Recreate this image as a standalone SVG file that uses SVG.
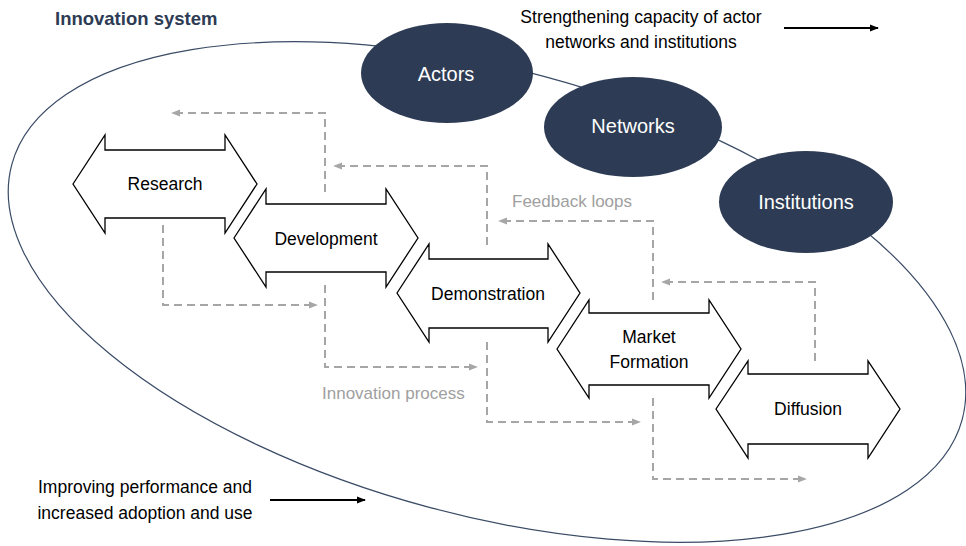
<svg xmlns="http://www.w3.org/2000/svg" width="966" height="546" viewBox="0 0 966 546">
<defs>
<style>
text{font-family:"Liberation Sans",Arial,sans-serif}
.lbl{font-size:17.5px;fill:#000;text-anchor:middle}
.ell{fill:#2d3b54}
.etx{font-size:20px;fill:#fff;text-anchor:middle}
.stage{fill:#fff;stroke:#000;stroke-width:1.3;stroke-linejoin:miter}
.dash{fill:none;stroke:#a6a6a6;stroke-width:2;stroke-dasharray:8 5}
.gray{font-size:17px;fill:#a0a0a0}
.blk{stroke:#000;stroke-width:2;fill:none}
</style>
<marker id="ga" viewBox="0 0 10 10" refX="9" refY="5" markerWidth="9" markerHeight="9" markerUnits="userSpaceOnUse" orient="auto"><path d="M0,1 L10,5 L0,9 Z" fill="#a6a6a6"/></marker>
<marker id="ba" viewBox="0 0 10 10" refX="9" refY="5" markerWidth="9" markerHeight="9" markerUnits="userSpaceOnUse" orient="auto"><path d="M0,1 L10,5 L0,9 Z" fill="#000"/></marker>
</defs>
<rect width="966" height="546" fill="#fff"/>
<text x="55" y="25" font-size="18.5" font-weight="bold" fill="#2d3b54">Innovation system</text>
<ellipse id="system" cx="487" cy="292" rx="492" ry="223" transform="rotate(15 487 292)" fill="none" stroke="#3a4b66" stroke-width="1.2"/>
<g id="actors"><ellipse class="ell" cx="447" cy="73" rx="86" ry="50"/><text class="etx" x="446" y="81">Actors</text></g>
<g id="networks"><ellipse class="ell" cx="633" cy="127" rx="89" ry="50"/><text class="etx" x="633" y="133">Networks</text></g>
<g id="institutions"><ellipse class="ell" cx="806" cy="202" rx="87" ry="51"/><text class="etx" x="806" y="209">Institutions</text></g>
<text class="lbl" x="641" y="23">Strengthening capacity of actor</text>
<text class="lbl" x="641" y="48">networks and institutions</text>
<line class="blk" x1="784" y1="28" x2="878" y2="28" marker-end="url(#ba)"/>
<text class="lbl" x="145" y="493">Improving performance and</text>
<text class="lbl" x="145" y="519">increased adoption and use</text>
<line class="blk" x1="270" y1="500" x2="365" y2="500" marker-end="url(#ba)"/>
<g id="connectors">
<path class="dash" d="M325,192 V113 H172" marker-end="url(#ga)"/>
<path class="dash" d="M487,245 V166 H334" marker-end="url(#ga)"/>
<path class="dash" d="M653,300 V221 H499" marker-end="url(#ga)"/>
<path class="dash" d="M815,361 V282 H662" marker-end="url(#ga)"/>
<path class="dash" d="M163,225 V305 H317" marker-end="url(#ga)"/>
<path class="dash" d="M325,285 V367 H477" marker-end="url(#ga)"/>
<path class="dash" d="M487,342 V422 H640" marker-end="url(#ga)"/>
<path class="dash" d="M653,398 V479 H806" marker-end="url(#ga)"/>
</g>
<text class="gray" x="512" y="207">Feedback loops</text>
<text class="gray" x="322" y="399">Innovation process</text>
<g id="research"><polygon class="stage" points="73,184 105,135 105,150 225,150 225,135 257,184 225,233 225,218 105,218 105,233"/><text class="lbl" x="165" y="190">Research</text></g>
<g id="development"><polygon class="stage" points="234,238 266,189 266,204 386,204 386,189 418,238 386,287 386,272 266,272 266,287"/><text class="lbl" x="326" y="245">Development</text></g>
<g id="demonstration"><polygon class="stage" points="397,293 429,244 429,259 548,259 548,244 580,293 548,342 548,328 429,328 429,342"/><text class="lbl" x="488" y="300">Demonstration</text></g>
<g id="market"><polygon class="stage" points="557,349 589,300 589,313 709,313 709,300 741,349 709,398 709,385 589,385 589,398"/><text class="lbl" x="649" y="343">Market</text><text class="lbl" x="649" y="368">Formation</text></g>
<g id="diffusion"><polygon class="stage" points="716,409 748,361 748,374 868,374 868,361 900,409 868,458 868,444 748,444 748,458"/><text class="lbl" x="808" y="415">Diffusion</text></g>
</svg>
